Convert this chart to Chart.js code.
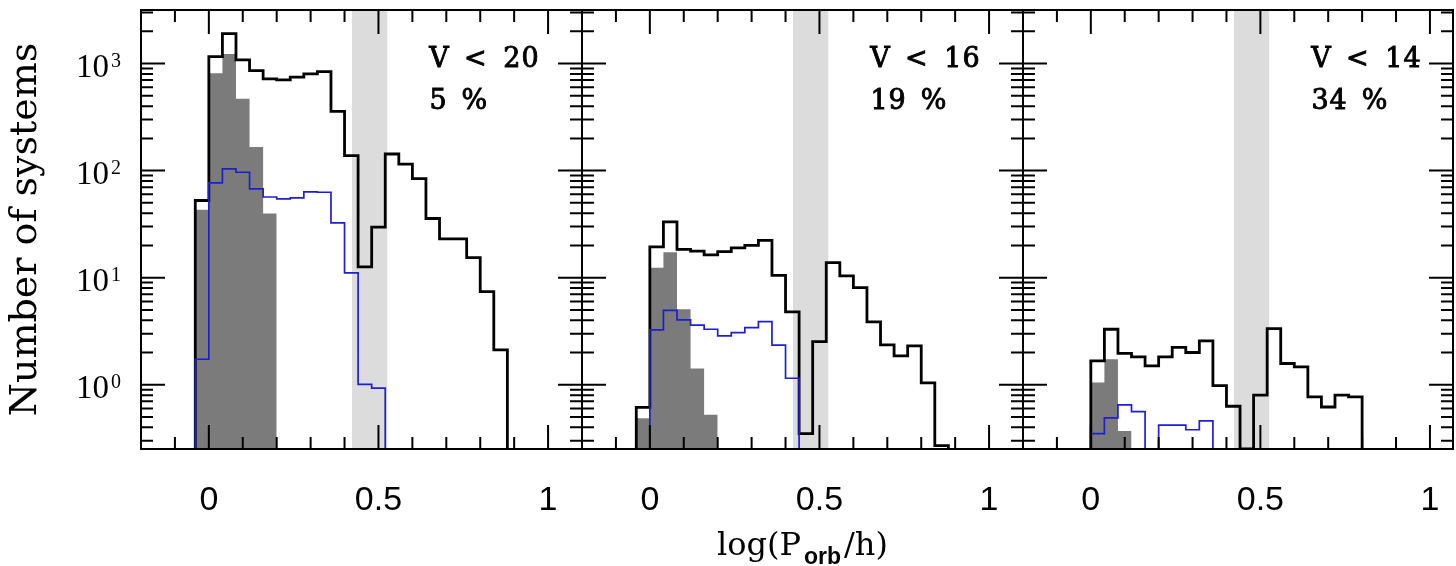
<!DOCTYPE html>
<html><head><meta charset="utf-8">
<script src="https://cdn.jsdelivr.net/npm/chart.js@4.4.1/dist/chart.umd.min.js"></script>
<style>
html,body{margin:0;padding:0;background:#fff;width:1456px;height:566px;overflow:hidden}
canvas{position:absolute;left:0;top:0}
</style></head>
<body>
<canvas id="c0" width="1456" height="566"></canvas>
<canvas id="c1" width="1456" height="566"></canvas>
<canvas id="c2" width="1456" height="566"></canvas>
<script>
// ---- data ----
const BIN_EDGES = [-0.04, 0, 0.04, 0.08, 0.12, 0.16, 0.2, 0.24, 0.28, 0.32, 0.36, 0.4, 0.44, 0.48, 0.52, 0.56, 0.6, 0.64, 0.68, 0.72, 0.76, 0.8, 0.84, 0.88];

// V < 20
const P1_ALL   = [52.6, 1160, 1900, 1080, 860, 720, 705, 746, 801, 842, 357, 138, 12.6, 29.6, 143, 115, 84, 35.7, 23, 23, 15.4, 7.4, 2.12];
const P1_GRAY  = [43, 813, 1230, 468, 166, 39.7, null, null, null, null, null, null, null, null, null, null, null, null, null, null, null, null, null];
const P1_BLUE  = [1.73, 76.7, 104, 96.5, 67.5, 56.7, 54.5, 55.6, 63.3, 62.8, 32.5, 11.1, 1.01, 0.93, null, null, null, null, null, null, null, null, null];
// V < 16
const P2_ALL   = [0.615, 19.4, 33.2, 18.4, 17.7, 16.3, 17.5, 19, 20, 22.3, 10.5, 4.8, 0.35, 2.53, 13.8, 10.4, 8.07, 3.86, 2.36, 1.86, 2.31, 1.04, 0.27];
const P2_GRAY  = [0.486, 12.4, 17.3, 5.07, 1.42, 0.525, null, null, null, null, null, null, null, null, null, null, null, null, null, null, null, null, null];
const P2_BLUE  = [null, 3.25, 4.96, 4.03, 3.6, 3.3, 2.86, 3.07, 3.42, 3.89, 2.34, 1.15, null, null, null, null, null, null, null, null, null, null, null];
// V < 14
const P3_ALL   = [null, 1.67, 3.3, 1.96, 1.82, 1.5, 1.82, 2.23, 2.0, 2.57, 0.98, 0.63, 0, 0.8, 3.35, 1.58, 1.47, 0.77, 0.62, 0.8, 0.77, null, null];
const P3_GRAY  = [null, 1.05, 1.73, 0.37, null, null, null, null, null, null, null, null, null, null, null, null, null, null, null, null, null, null, null];
const P3_BLUE  = [null, 0.35, 0.49, 0.65, 0.56, 0, 0.42, 0.42, 0.38, 0.46, 0, null, null, null, null, null, null, null, null, null, null, null, null];

const PANEL_LABELS    = ['V < 20', 'V < 16', 'V < 14'];
const PANEL_FRACTIONS = ['5 %', '19 %', '34 %'];
const PERIOD_GAP      = [0.422, 0.526];

const X_TICK_VALUES = [0, 0.5, 1];
const X_TICK_LABELS = ['0', '0.5', '1'];
const Y_TICK_VALUES = [1, 10, 100, 1000];
const Y_TICK_BASE   = '10';
const Y_TICK_EXPS   = ['0', '1', '2', '3'];

const Y_MIN = 0.2512, Y_MAX = 3162;
const X_MIN = -0.2;
const X_MAX = [1.1, 1.1, 1.068];

// ---- layout / style ----
const W = 1456, H = 566;
const PANEL_LEFT  = [141, 582, 1023];
const PANEL_RIGHT = [582, 1023, 1453];
const TOP = 10, BOTTOM = 449;
const GRAY = '#7b7b7b', BAND = '#dcdcdc', BLUE = '#1f1fd0';

const SERIES = [
  [P1_ALL, P1_GRAY, P1_BLUE],
  [P2_ALL, P2_GRAY, P2_BLUE],
  [P3_ALL, P3_GRAY, P3_BLUE]
];

function stepPoints(vals) {
  const pts = [];
  let first = -1, last = -1;
  vals.forEach((v, i) => { if (v !== null) { if (first < 0) first = i; last = i; } });
  if (first < 0) return pts;
  pts.push({x: BIN_EDGES[first], y: Y_MIN});
  for (let i = first; i <= last; i++) {
    const v = vals[i];
    pts.push({x: BIN_EDGES[i], y: (v === null || v <= 0) ? Y_MIN : v});
  }
  pts.push({x: BIN_EDGES[last + 1], y: Y_MIN});
  return pts;
}

function monoText(ctx, str, x0, base, cell) {
  ctx.textAlign = 'center';
  for (let i = 0; i < str.length; i++) {
    if (str[i] !== ' ') {
      ctx.fillText(str[i], x0 + i * cell, base);
      ctx.strokeText(str[i], x0 + i * cell, base);
    }
  }
}

function makePlugins(p) {
  return [{
    id: 'band' + p,
    beforeDatasetsDraw(chart) {
      const {ctx, chartArea: a, scales: {x}} = chart;
      const x0 = x.getPixelForValue(PERIOD_GAP[0]), x1 = x.getPixelForValue(PERIOD_GAP[1]);
      ctx.save();
      ctx.fillStyle = BAND;
      ctx.fillRect(x0, a.top, x1 - x0, a.bottom - a.top);
      ctx.restore();
    }
  }, {
    id: 'frame' + p,
    afterDatasetsDraw(chart) {
      const {ctx, chartArea: a, scales: {x, y}} = chart;
      ctx.save();
      ctx.strokeStyle = '#000';
      ctx.lineWidth = 2;
      ctx.beginPath();
      for (let k = Math.ceil(x.min * 10 + 1e-6); k <= Math.floor(x.max * 10 - 1e-6); k++) {
        const v = k / 10;
        const px = x.getPixelForValue(v);
        const len = (k % 5 === 0) ? 24 : 12;
        ctx.moveTo(px, a.bottom); ctx.lineTo(px, a.bottom - len);
        ctx.moveTo(px, a.top); ctx.lineTo(px, a.top + len);
      }
      for (let d = -1; d <= 3; d++) {
        for (let m = 1; m <= 9; m++) {
          const v = m * Math.pow(10, d);
          if (v <= y.min || v >= y.max) continue;
          const py = y.getPixelForValue(v);
          const len = (m === 1) ? 24 : 12;
          ctx.moveTo(a.left, py); ctx.lineTo(a.left + len, py);
          ctx.moveTo(a.right, py); ctx.lineTo(a.right - len, py);
        }
      }
      ctx.stroke();
      ctx.strokeRect(a.left, a.top, a.right - a.left, a.bottom - a.top);
      ctx.restore();
    },
    afterDraw(chart) {
      const {ctx, chartArea: a, scales: {y}} = chart;
      ctx.save();
      ctx.fillStyle = '#000';
      ctx.strokeStyle = '#000';
      ctx.textBaseline = 'alphabetic';
      // panel annotations
      ctx.font = '27px "DejaVu Serif"';
      ctx.lineWidth = 0.9;
      monoText(ctx, PANEL_LABELS[p], a.left + 298, 67, 18.2);
      monoText(ctx, PANEL_FRACTIONS[p], a.left + 297, 109, 18.2);
      // y tick labels (10^n)
      if (p === 0) {
        const fB = '33px "Liberation Serif"', fE = '20px "Liberation Serif"';
        Y_TICK_VALUES.forEach((v, i) => {
          const py = y.getPixelForValue(v);
          ctx.font = fE; const we = ctx.measureText(Y_TICK_EXPS[i]).width;
          ctx.font = fB; const wb = ctx.measureText(Y_TICK_BASE).width;
          const right = a.left - 20;
          ctx.textAlign = 'left';
          ctx.font = fB; ctx.fillText(Y_TICK_BASE, right - we - 2 - wb, py + 13);
          ctx.font = fE; ctx.fillText(Y_TICK_EXPS[i], right - we, py + 3);
        });
      }
      // x axis title
      if (p === 1) {
        const cx = (a.left + a.right) / 2;
        const f1 = '32px "DejaVu Serif"', f2 = 'bold 23px "Liberation Sans"';
        ctx.textAlign = 'left';
        ctx.font = f1; const w1 = ctx.measureText('log(P').width, w3 = ctx.measureText('/h)').width;
        ctx.font = f2; const w2 = ctx.measureText('orb').width;
        const gap = 3;
        let sx = cx - (w1 + w2 + w3 + 2 * gap) / 2;
        ctx.font = f1; ctx.fillText('log(P', sx, 555); sx += w1 + gap;
        ctx.font = f2; ctx.fillText('orb', sx, 564); sx += w2 + gap;
        ctx.font = f1; ctx.fillText('/h)', sx, 555);
      }
      ctx.restore();
    }
  }];
}

Chart.defaults.color = '#000';

for (let p = 0; p < 3; p++) {
  const [all, gray, blue] = SERIES[p];
  new Chart(document.getElementById('c' + p), {
    type: 'line',
    data: {
      datasets: [
        {data: stepPoints(gray), stepped: true, fill: 'start', backgroundColor: GRAY, borderWidth: 0, borderColor: 'rgba(0,0,0,0)', pointRadius: 0, order: 3},
        {data: stepPoints(all), stepped: true, fill: false, borderColor: '#000', borderWidth: 2.8, pointRadius: 0, order: 2},
        {data: stepPoints(blue), stepped: true, fill: false, borderColor: BLUE, borderWidth: 1.7, pointRadius: 0, order: 1}
      ]
    },
    options: {
      responsive: false,
      animation: false,
      events: [],
      layout: {padding: {left: p === 0 ? 0 : PANEL_LEFT[p], right: W - PANEL_RIGHT[p], top: TOP, bottom: 0}},
      plugins: {legend: {display: false}, tooltip: {enabled: false}},
      scales: {
        x: {
          type: 'linear', min: X_MIN, max: X_MAX[p],
          grid: {display: false}, border: {display: false},
          afterFit(s) { s.height = H - BOTTOM; s.paddingLeft = 0; s.paddingRight = 0; s.paddingTop = 0; s.paddingBottom = 0; },
          afterBuildTicks(s) { s.ticks = X_TICK_VALUES.map(v => ({value: v})); },
          ticks: {
            autoSkip: false, maxRotation: 0, padding: 23, color: '#000',
            font: {family: 'Liberation Sans', size: 34},
            callback: (v) => { const i = X_TICK_VALUES.indexOf(v); return i >= 0 ? X_TICK_LABELS[i] : ''; }
          }
        },
        y: {
          type: 'logarithmic', min: Y_MIN, max: Y_MAX, display: p === 0,
          grid: {display: false}, border: {display: false},
          afterFit(s) { s.width = p === 0 ? PANEL_LEFT[0] : 0; s.paddingTop = 0; s.paddingBottom = 0; s.paddingLeft = 0; s.paddingRight = 0; },
          ticks: {display: false},
          title: {display: true, text: 'Number of systems', color: '#000', font: {family: 'DejaVu Serif', size: 38}, padding: {top: 3, bottom: 0}}
        }
      }
    },
    plugins: makePlugins(p)
  });
}
</script>
</body></html>
